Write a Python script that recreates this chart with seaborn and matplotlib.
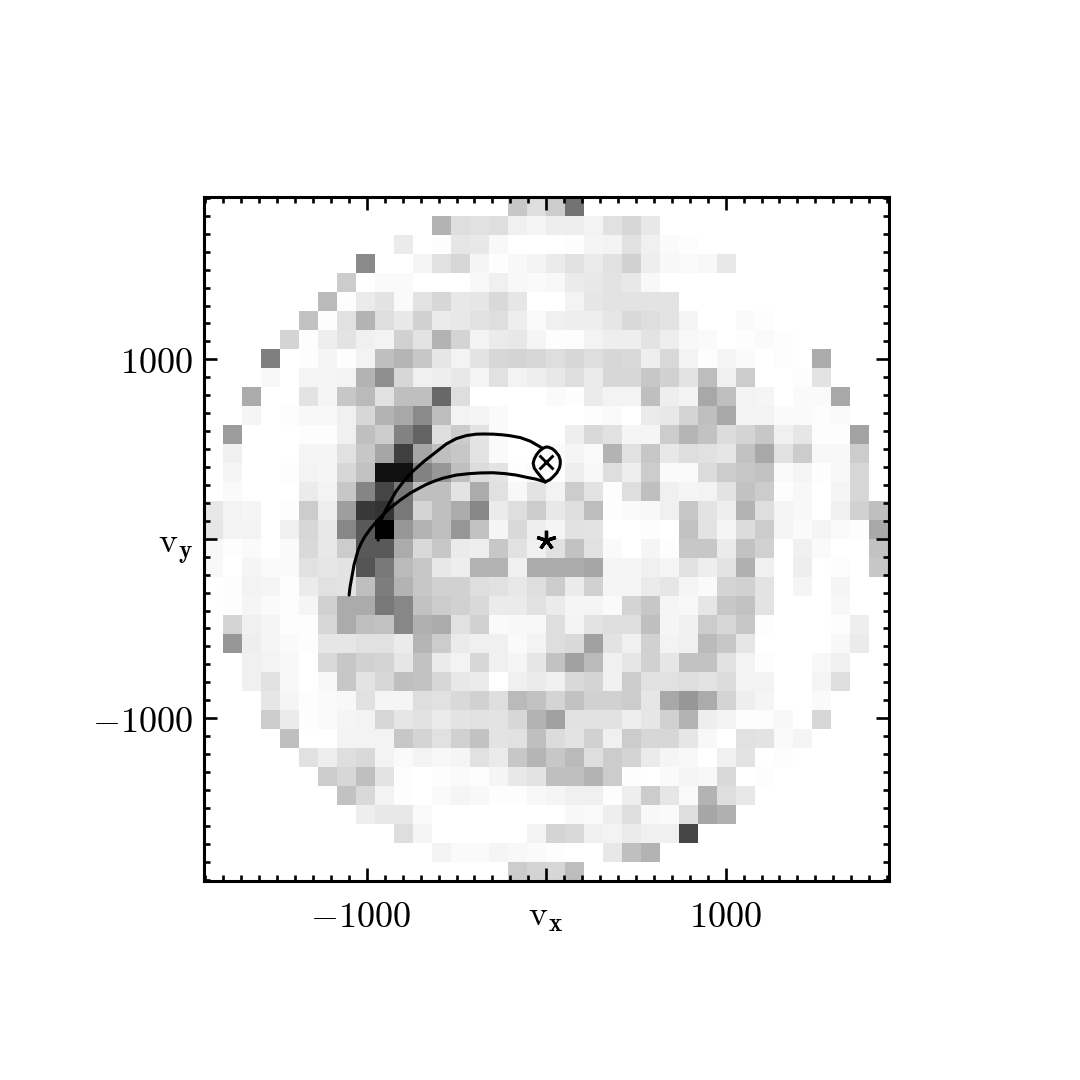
import numpy as np
import matplotlib
matplotlib.use("Agg")
import matplotlib.pyplot as plt
from matplotlib.transforms import ScaledTranslation
import seaborn as sns

# darkness of every velocity cell (percent), rows run from top to bottom
density = [
 [0]*16 + [22,13,20,55] + [0]*16,
 [0]*12 + [30,13,12,13,6,4,7,7,5,12,16,9] + [0]*12,
 [0]*10 + [8,0,1,10,9,3,0,0,0,1,4,5,12,6,2,1] + [0]*10,
 [0]*8 + [46,0,0,4,12,16,4,1,3,5,8,12,8,12,18,7,3,2,3,9] + [0]*8,
 [0]*7 + [20,0,2,2,0,0,0,3,6,3,2,3,8,9,11,9,3] + [0]*12,
 [0]*6 + [27,1,8,11,2,11,16,9,10,15,10,0,0,5,10,11,11,11,11] + [0]*11,
 [0]*5 + [24,1,12,30,13,9,18,8,9,12,13,7,2,6,7,7,10,15,13,11,4,0,0,2,1] + [0]*6,
 [0]*4 + [17,1,7,11,6,5,18,11,30,17,5,8,9,4,1,1,5,7,7,11,7,3,2,0,1,2,1] + [0]*5,
 [0]*3 + [50,0,1,4,1,5,25,29,22,10,5,11,16,17,16,13,16,13,16,15,7,15,5,1,4,2,0,1,0,33,0,0,0],
 [0]*3 + [3,0,4,4,5,30,44,16,6,7,9,4,12,5,7,9,13,8,16,16,22,18,11,26,6,20,0,0,1,11,0,0,0],
 [0,0,33,0,0,11,4,22,27,12,25,25,59,13,0,0,0,0,2,1,8,5,5,25,7,5,34,25,5,4,0,2,2,34,0,0],
 [0,0,4,0,1,3,3,6,16,30,34,46,26,5,4,2,0,0,0,0,1,2,0,8,9,17,25,34,5,5,2,2,1,2,0,0],
 [0,39,0,0,0,1,1,6,25,20,49,61,13,20,11,2,0,0,0,7,15,12,4,4,20,29,24,14,17,22,6,10,1,1,36,0],
 [0,6,0,0,0,4,4,12,22,35,75,35,25,22,11,2,0,0,2,4,2,30,12,22,9,13,12,10,24,34,12,20,3,3,20,0],
 [0,4,0,0,1,5,4,16,24,93,93,49,41,25,14,11,1,2,1,7,3,13,7,20,2,2,14,20,22,24,2,4,1,3,16,0],
 [0,2,0,0,0,8,5,22,48,73,53,25,25,11,33,12,3,11,5,20,11,1,13,25,6,4,5,11,24,20,1,3,0,4,16,0],
 [9,5,4,0,1,20,7,38,78,80,53,17,25,33,47,8,13,20,9,13,26,1,2,3,6,22,11,7,30,13,4,3,0,6,18,25],
 [10,5,5,0,6,16,9,47,65,100,41,30,25,41,24,4,15,7,4,12,11,0,0,1,0,24,11,4,14,20,4,2,4,2,1,34],
 [3,1,2,0,2,15,9,20,65,65,33,15,22,8,7,22,12,6,12,24,12,2,0,4,1,22,22,8,24,18,0,6,2,0,0,24],
 [3,0,4,2,2,12,10,11,67,53,27,22,9,7,30,30,6,33,33,33,35,4,4,6,4,12,7,11,31,6,0,7,0,1,0,22],
 [0,1,5,4,1,8,12,11,25,51,30,22,18,18,13,12,9,13,20,8,18,4,4,8,10,4,2,17,18,11,0,4,0,4,0,0],
 [0,1,4,2,1,4,18,33,33,53,47,24,20,18,15,8,8,12,8,4,4,2,17,22,4,3,10,22,24,11,0,0,0,3,0,0],
 [0,17,6,4,1,1,16,33,25,24,47,31,33,12,18,2,3,3,13,5,11,13,13,25,4,6,20,16,22,1,0,0,0,1,7,0],
 [0,41,7,4,2,1,10,10,12,12,8,29,20,8,6,6,2,5,13,15,37,11,6,18,5,6,27,22,10,0,0,0,0,3,8,0],
 [0,0,6,5,3,0,15,22,18,17,10,24,8,5,16,6,4,10,24,37,27,6,10,18,10,24,24,12,5,1,0,0,3,6,0,0],
 [0,0,6,12,3,0,3,22,11,16,25,24,16,9,8,0,6,8,6,15,17,6,20,12,12,13,11,14,5,5,0,0,4,13,0,0],
 [0,0,0,10,4,1,2,3,12,4,4,13,12,15,18,13,27,24,17,24,18,18,20,10,34,41,33,17,7,4,0,0,2,0,0,0],
 [0,0,0,20,8,1,2,4,5,16,10,12,8,11,12,11,16,30,37,12,12,12,7,10,18,30,7,5,1,1,3,0,16,0,0,0],
 [0,0,0,0,25,0,0,5,5,5,22,17,12,18,24,11,12,25,14,11,18,6,20,16,16,10,3,0,12,11,2,4,0,0,0,0],
 [0,0,0,0,0,12,7,13,15,5,2,5,3,4,12,8,22,29,22,27,13,20,17,8,4,3,0,6,11,0,1,0,0,0,0,0],
 [0]*6 + [20,16,25,11,1,0,1,2,1,4,9,11,25,25,30,20,1,0,2,4,3,15,0,1,0,0,0,0,0,0],
 [0]*7 + [24,15,5,1,0,2,4,3,1,1,3,4,6,6,1,7,20,10,2,30,13,9,0,0,0,0,0,0,0],
 [0]*8 + [7,9,9,2,0,0,0,0,0,0,0,3,2,7,13,3,2,13,35,31] + [0]*8,
 [0]*10 + [13,4,0,0,0,0,0,5,17,15,6,5,8,6,6,73] + [0]*10,
 [0]*12 + [5,2,2,4,3,2,1,0,0,9,25,30] + [0]*12,
 [0]*16 + [20,17,16,26] + [0]*16,
]

# trajectory: lower branch, round the loop, back to the tip
lower_vx = [-1099,-1094,-1085,-1071,-1049,-1032,-1010,-982,-954,-915,-871,-815,-759,
            -714,-670,-625,-575,-502,-430,-363,-296,-229,-167,-112,-56,-6]
lower_vy = [-314,-270,-220,-142,-64,-25,14,53,87,129,171,215,254,
            279,302,321,338,355,363,367,368,363,355,343,332,317]
loop_vx = [-6,20,39,59,73,78,78,70,50,33,11,-3,-17,-39,-56,-67,-73,-67,-52,-33,-6]
loop_vy = [317,329,346,368,394,416,438,463,488,502,511,511,505,488,466,444,421,394,373,349,317]
# upper branch leaving the loop
upper_vx = [-22,-56,-89,-145,-206,-251,-296,-346,-391,-446,-502,-558,-614,-681,-742,
            -792,-837,-871,-898,-920,-932,-937]
upper_vy = [505,525,544,564,575,580,583,584,583,575,558,528,484,432,378,
            324,265,205,155,104,48,-8]

cross_vx, cross_vy = [0], [427]
star_vx, star_vy = [0], [-9]

major_ticks = [-1000, 0, 1000]
minor_ticks = [v for v in range(-1900, 1901, 100)]
xtick_labels = [r"$-1000$", r"$\mathrm{v}_{\mathbf{x}}$", r"$1000$"]
ytick_labels = [r"$-1000$", r"$\mathrm{v}_{\mathbf{y}}$", r"$1000$"]
limit = 1908

sns.set_style("white")
plt.rcParams["mathtext.fontset"] = "cm"

fig = plt.figure(figsize=(10.8, 10.8), dpi=100)
rect = [204/1080, 1-881/1080, 684.5/1080, 684.5/1080]
ax = fig.add_axes(rect)
sns.heatmap(np.array(density), ax=ax, cmap="gray_r", vmin=0, vmax=100, cbar=False,
            xticklabels=False, yticklabels=False)

top = fig.add_axes(rect)
top.patch.set_alpha(0)
top.set_xlim(-limit, limit)
top.set_ylim(-limit, limit)
for xs, ys in [(lower_vx, lower_vy), (loop_vx, loop_vy), (upper_vx, upper_vy)]:
    top.plot(xs, ys, color="k", lw=2.2, solid_joinstyle="round")
top.plot(cross_vx, cross_vy, marker="x", color="k", ms=10, mew=2.1, ls="none")
top.plot(star_vx, star_vy, marker=(5, 2, 0), color="k", ms=14, mew=2.4, ls="none")

top.set_xticks(major_ticks)
top.set_yticks(major_ticks)
top.set_xticklabels(xtick_labels, fontsize=26, color="k")
top.set_yticklabels(ytick_labels, fontsize=26, color="k")
top.set_xticks(minor_ticks, minor=True)
top.set_yticks(minor_ticks, minor=True)
top.tick_params(which="both", direction="in", top=True, right=True, bottom=True, left=True,
                width=1.9, color="k")
top.tick_params(which="major", length=9.4)
top.tick_params(which="minor", length=4.6)
top.tick_params(axis="x", which="major", pad=14)
top.tick_params(axis="y", which="major", pad=8)
for s in top.spines.values():
    s.set_visible(True)
    s.set_linewidth(2.2)
    s.set_color("k")

# the minus sign hangs out to the left, the v labels sit a little low
xl = top.get_xticklabels()
xl[0].set_transform(xl[0].get_transform() + ScaledTranslation(-5/72, 0, fig.dpi_scale_trans))
yl = top.get_yticklabels()
yl[1].set_transform(yl[1].get_transform() + ScaledTranslation(0, -3/72, fig.dpi_scale_trans))

fig.savefig("out.png", dpi=100, facecolor="white")
